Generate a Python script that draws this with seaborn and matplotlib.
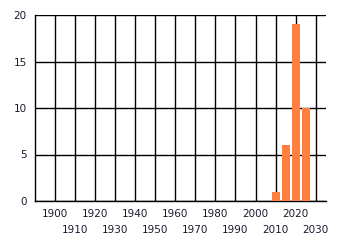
import matplotlib
matplotlib.use("Agg")
import matplotlib.pyplot as plt
import seaborn as sns
import pandas as pd

years = [2010, 2015, 2020, 2025]
counts = [1, 6, 19, 10]
xticks = list(range(1900, 2031, 10))
yticks = [0, 5, 10, 15, 20]

sns.set_style("white")
plt.rcParams['font.family'] = ['DejaVu Sans']

fig = plt.figure(figsize=(3.4, 2.45), dpi=100)
ax = fig.add_axes([35/340, 1 - 201/245, (325.7-35)/340, (201-15)/245])

df = pd.DataFrame({"year": years, "count": counts})
sns.barplot(data=df, x="year", y="count", native_scale=True, color="#FF7F40",
            saturation=1, width=0.8, linewidth=0, ax=ax, zorder=3)

ax.set_xlim(1890, 2035)
ax.set_ylim(0, 20)
ax.set_xticks(xticks)
ax.set_xticklabels([str(t) for t in xticks])
ax.set_yticks(yticks)
ax.set_yticklabels([str(t) for t in yticks])
ax.grid(True, color="black", linewidth=1, zorder=0)
ax.set_axisbelow(True)
ax.set_xlabel("")
ax.set_ylabel("")
for s in ["top", "right"]:
    ax.spines[s].set_visible(False)
for s in ["left", "bottom"]:
    ax.spines[s].set_color("black")
    ax.spines[s].set_linewidth(1)
ax.tick_params(axis="both", length=4, width=1, color="black", labelsize=7.5,
               labelcolor="#1a1a2e", pad=2)
for i, tick in enumerate(ax.xaxis.get_major_ticks()):
    if i % 2 == 1:
        tick.set_pad(13)

fig.savefig("out.png", dpi=100)
